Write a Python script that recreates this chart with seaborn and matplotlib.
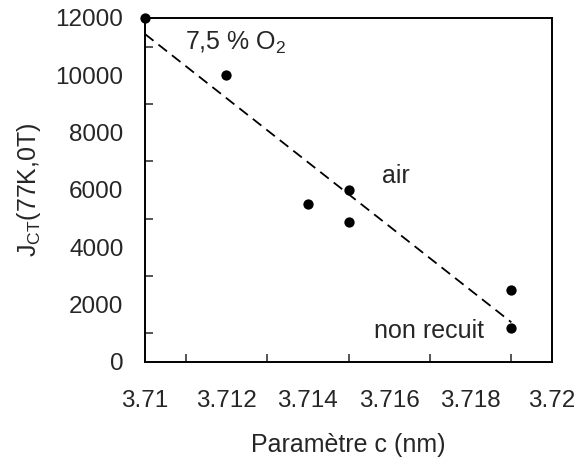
import matplotlib
matplotlib.use("Agg")
import matplotlib.pyplot as plt
import seaborn as sns
import pandas as pd
from matplotlib.ticker import MultipleLocator, FuncFormatter

# parametre c (nm) and J_CT(77K,0T)
param_c = [3.710, 3.712, 3.714, 3.715, 3.715, 3.719, 3.719]
jct = [12000, 10000, 5500, 6000, 4900, 2500, 1200]

labels = ["7,5 % O$_2$", "air", "non recuit"]
label_x = [3.71098, 3.71582, 3.71563]
label_y = [10880, 6240, 840]

df = pd.DataFrame({"c": param_c, "J": jct})

sns.set_style("white")
plt.rcParams["font.family"] = ["Liberation Sans", "DejaVu Sans"]
plt.rcParams["mathtext.fontset"] = "custom"
plt.rcParams["mathtext.rm"] = "Liberation Sans"
plt.rcParams["mathtext.it"] = "Liberation Sans"

fig = plt.figure(figsize=(5.79, 4.66), dpi=100)
ax = fig.add_axes([0.2504, 0.2232, 0.703, 0.7382])

sns.regplot(data=df, x="c", y="J", ci=None, ax=ax,
            scatter_kws={"s": 55, "color": "black", "edgecolor": "black",
                         "linewidths": 0, "alpha": 1, "clip_on": False, "zorder": 3},
            line_kws={"color": "black", "lw": 1.3, "linestyle": (0, (6, 3.5))})

ax.set_xlim(3.71, 3.72)
ax.set_ylim(0, 12000)
ax.xaxis.set_major_locator(MultipleLocator(0.002))
ax.xaxis.set_minor_locator(MultipleLocator(0.001))
ax.yaxis.set_major_locator(MultipleLocator(2000))
ax.yaxis.set_minor_locator(MultipleLocator(1000))
ax.xaxis.set_major_formatter(FuncFormatter(lambda v, p: "{:g}".format(round(v, 4))))

ax.tick_params(which="major", direction="inout", length=11, width=1.1,
               labelsize=17.5, color="black")
ax.tick_params(axis="x", which="major", pad=14.5)
ax.tick_params(axis="y", which="major", pad=10)
ax.tick_params(which="minor", direction="in", length=5.5, width=1.1,
               bottom=True, left=True)
for sp in ax.spines.values():
    sp.set_visible(True)
    sp.set_color("black")
    sp.set_linewidth(1.4)

for t, x, y in zip(labels, label_x, label_y):
    ax.text(x, y, t, fontsize=18, ha="left", va="baseline")

ax.set_xlabel("Paramètre c (nm)", fontsize=18, labelpad=15)
ax.set_ylabel("J$_{\\mathregular{CT}}$(77K,0T)", fontsize=18, labelpad=9)

fig.savefig("out.png", dpi=100)
